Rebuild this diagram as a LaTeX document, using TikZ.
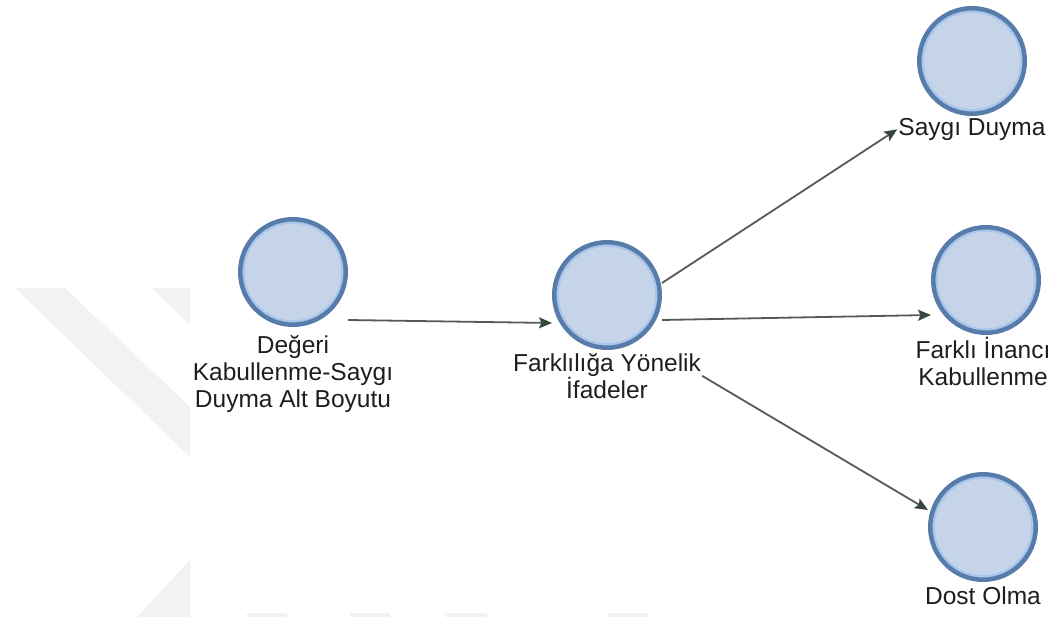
\documentclass[tikz,border=0pt]{standalone}
\usepackage{fontspec}
\setmainfont{Liberation Sans}
\usetikzlibrary{arrows.meta,positioning}

\definecolor{ringdark}{RGB}{88,124,170}
\definecolor{ringlight}{RGB}{168,198,236}
\definecolor{discfill}{RGB}{197,212,232}
\definecolor{edgegray}{RGB}{84,90,88}
\definecolor{tipgreen}{RGB}{52,72,62}
\definecolor{labeltext}{RGB}{30,30,30}
\definecolor{wmgray}{RGB}{242,242,242}

\tikzset{
  concept/.style={circle, draw=ringdark, line width=4.5pt, fill=discfill,
    minimum size=105.5pt, inner sep=0pt,
    path picture={\draw[ringlight, line width=2.5pt]
      (path picture bounding box.center) circle (49.5pt);}},
  caption/.style={font=\fontsize{24.5pt}{27pt}\selectfont, text=labeltext,
    align=center, inner sep=1pt},
  link/.style={draw=edgegray, line width=1.8pt,
    -{Stealth[length=13pt,width=11pt,inset=2.5pt,color=tipgreen]}}
}

\begin{document}
\begin{tikzpicture}[x=1pt,y=-1pt]
  \useasboundingbox (0,0) rectangle (1057,617);

  % faint background mark
  \fill[wmgray] (15,288) -- (65,288) -- (190,407) -- (190,457) -- cycle;
  \fill[wmgray] (152,288) -- (190,288) -- (190,325) -- cycle;
  \fill[wmgray] (137,617) -- (190,560) -- (190,617) -- cycle;
  \foreach \a/\b in {247/287, 350/390, 445/487, 608/648}
    \fill[wmgray] (\a,613) rectangle (\b,617);

  \node[concept] (deger) at (293,272) {};
  \node[concept] (fark) at (607,295) {};
  \node[concept] (saygi) at (972,61) {};
  \node[concept] (inanc) at (986,280) {};
  \node[concept] (dost) at (983,527) {};

  \node[caption, below=7pt of deger] (deger-l) {Değeri\\Kabullenme-Saygı\\Duyma Alt Boyutu};
  \node[caption, below=2pt of fark] (fark-l) {Farklılığa Yönelik\\İfadeler};
  \node[caption, below=1pt of saygi] (saygi-l) {Saygı Duyma};
  \node[caption, below=1pt of inanc, xshift=-3pt] (inanc-l) {Farklı İnancı\\Kabullenme};
  \node[caption, below=4pt of dost] (dost-l) {Dost Olma};

  \path ([yshift=-48pt]deger.east) edge[link] ([yshift=-28pt]fark.west);
  \path ([yshift=12pt]fark.east) edge[link] (saygi-l.west);
  \path ([yshift=-25pt]fark.east) edge[link] ([yshift=-35pt]inanc.west);
  \path (fark-l.east) edge[link] ([yshift=17pt]dost.west);
\end{tikzpicture}
\end{document}
